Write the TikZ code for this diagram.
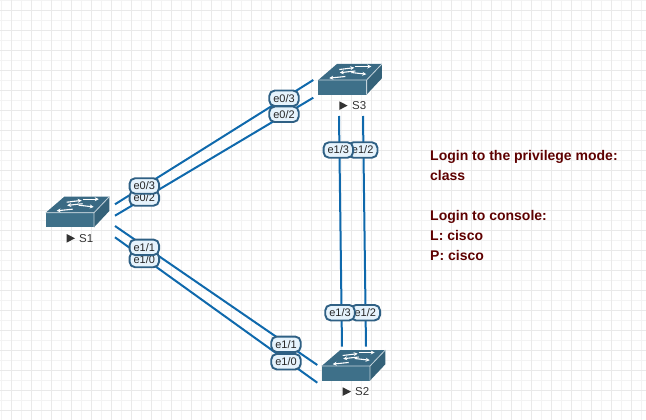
\documentclass[tikz,border=0pt]{standalone}
\usepackage{fontspec}
\usetikzlibrary{arrows.meta}
\setmainfont{Liberation Sans}
\definecolor{linkblue}{HTML}{0F69AC}
\definecolor{portedge}{HTML}{2F6084}
\definecolor{portfill}{HTML}{E6F3FC}
\definecolor{swfront}{HTML}{3E7089}
\definecolor{swtop}{HTML}{3A6A84}
\definecolor{swside}{HTML}{356279}
\definecolor{note}{HTML}{5E0000}
\definecolor{gridminor}{HTML}{F3F3F3}
\definecolor{gridmajor}{HTML}{E9E9E9}
\tikzset{
  x=1pt,y=-1pt,
  link/.style={draw=linkblue,line width=2pt},
  port/.style={draw=portedge,fill=portfill,line width=1.9pt,rounded corners=5.5pt,minimum width=29.5pt,minimum height=15.5pt,inner sep=0pt,font=\fontsize{11}{11}\selectfont,text=black!85},
  swname/.style={font=\fontsize{11.5}{11.5}\selectfont,text=black!80,anchor=west,inner sep=0pt},
  notetext/.style={font=\bfseries\fontsize{14}{20}\selectfont,text=note,anchor=north west,align=left,inner sep=0pt},
  swarrow/.style={draw=white,line width=1.1pt,-{Stealth[length=4pt,width=4pt]}},
  pics/switch/.style={code={
    \fill[swfront] (0,0) rectangle (48.3,14.6);
    \fill[swtop] (0,0) -- (18.6,-16) -- (63.6,-16) -- (48.3,0) -- cycle;
    \fill[swside] (48.3,0) -- (63.6,-16) -- (63.6,-1.7) -- (48.3,14.6) -- cycle;
    \draw[white!70!swfront,line width=.8pt] (0,0) -- (48.3,0) -- (63.6,-16) (48.3,0) -- (48.3,14.6);
    \draw[swarrow] (21,-10.5) -- (36,-12.3);
    \draw[swarrow] (37,-9) -- (21.5,-7.3);
    \draw[swarrow] (33,-7.5) -- (48,-5.8);
    \draw[swarrow] (27,-3.5) -- (11,-1.9);
    \draw[swarrow] (37,-13.5) -- (53,-13.5);
    \fill[black!80] (21,21.3) -- (29.3,25.6) -- (21,29.9) -- cycle;
  }},
}
\begin{document}
\begin{tikzpicture}
\useasboundingbox (0,0) rectangle (646,420);
\begin{scope}
\clip (0,0) rectangle (646,420);
\foreach \gx in {1,11,...,641} \draw[gridminor,line width=1pt] (\gx+.5,0) -- (\gx+.5,420);
\foreach \gy in {0,10,...,420} \draw[gridminor,line width=1pt] (0,\gy+.5) -- (646,\gy+.5);
\foreach \gx in {11,31,...,641} \draw[gridmajor,line width=1pt] (\gx+.5,0) -- (\gx+.5,420);
\foreach \gy in {10,30,...,410} \draw[gridmajor,line width=1pt] (0,\gy+.5) -- (646,\gy+.5);
\end{scope}

% link end points
\coordinate (a1) at (115,204.3);
\coordinate (a2) at (313.3,80);
\coordinate (b1) at (115,215.7);
\coordinate (b2) at (313.3,97.7);
\coordinate (c1) at (115,226);
\coordinate (c2) at (317.3,365);
\coordinate (d1) at (115,237.3);
\coordinate (d2) at (317.3,382.7);
\coordinate (e1) at (339,116);
\coordinate (e2) at (342,346.7);
\coordinate (f1) at (363,116);
\coordinate (f2) at (366,346.7);
\draw[link] (a1) -- (a2);
\draw[link] (b1) -- (b2);
\draw[link] (c1) -- (c2);
\draw[link] (d1) -- (d2);
\draw[link] (e1) -- (e2);
\draw[link] (f1) -- (f2);

% switches
\pic at (45.7,212.7) {switch};
\pic at (318.3,80) {switch};
\pic at (321.7,366) {switch};
\node[swname] (s1) at (79,238.2) {S1};
\node[swname] (s3) at (352,105.7) {S3};
\node[swname] (s2) at (355,391.2) {S2};

% port labels
\node[port] (p1) at (144.3,198) {e0/2};
\node[port] (p2) at (144.3,186) {e0/3};
\node[port] (p3) at (144.3,259.5) {e1/0};
\node[port] (p4) at (144.3,247.3) {e1/1};
\node[port] (p5) at (284,98.3) {e0/3};
\node[port] (p6) at (284,114.3) {e0/2};
\node[port] (p7) at (362.7,150) {e1/2};
\node[port] (p8) at (338.3,150) {e1/3};
\node[port] (p9) at (365.3,312.7) {e1/2};
\node[port] (p10) at (340,312.7) {e1/3};
\node[port] (p11) at (286,344.3) {e1/1};
\node[port] (p12) at (286,361.7) {e1/0};

\node[notetext] (n) at (430,150.5) {Login to the privilege mode:\\class\\[20pt]Login to console:\\L: cisco\\P: cisco};
\end{tikzpicture}
\end{document}
